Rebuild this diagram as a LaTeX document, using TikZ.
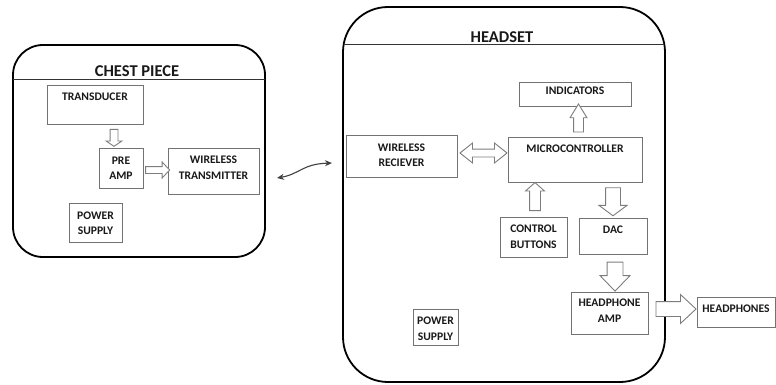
\documentclass[tikz,border=0pt]{standalone}
\usepackage{fontspec}
\setmainfont{Carlito}
\usetikzlibrary{shapes.arrows,arrows.meta}
\definecolor{txt}{RGB}{25,25,25}
\definecolor{boxline}{RGB}{115,115,115}
\definecolor{arrline}{RGB}{125,125,125}
\tikzset{
  outer/.style={draw=black, line width=1.8pt},
  hdrline/.style={draw=black!80, line width=0.8pt},
  blk/.style={draw=boxline, line width=0.9pt, inner sep=0pt},
  lbl/.style={text=txt, font=\fontsize{11.6}{15.5}\selectfont\bfseries, align=center, inner sep=0pt},
  ttl/.style={text=txt, font=\fontsize{16.5}{18}\selectfont\bfseries, inner sep=0pt},
  harr/.style={single arrow, draw=arrline, fill=white, line width=0.9pt, inner xsep=0pt},
  darr/.style={double arrow, draw=arrline, fill=white, line width=0.9pt, inner xsep=0pt},
}
\begin{document}
\begin{tikzpicture}[x=1pt,y=-1pt]
\useasboundingbox[fill=white] (0,0) rectangle (776,385);

% outer containers
\node[outer, rounded corners=30pt, minimum width=252pt, minimum height=212pt] (chest) at (139,151) {};
\node[outer, rounded corners=45pt, minimum width=322pt, minimum height=375pt] (head) at (504,194.5) {};
\draw[hdrline] (13,79) -- (265,79);
\draw[hdrline] (343.7,44) -- (664.3,44);
\node[ttl] (chestT) at (137,71) {CHEST PIECE};
\node[ttl] (headT) at (502,37) {HEADSET};

% chest piece boxes
\node[blk, minimum width=96pt, minimum height=39pt] (tr) at (95,104.5) {};
\node[lbl] (trT) at (95,97) {TRANSDUCER};
\node[blk, minimum width=44pt, minimum height=40pt] (pre) at (121,168) {};
\node[lbl] (preT) at (121,168) {PRE\\AMP};
\node[blk, minimum width=91pt, minimum height=46pt] (wtx) at (213.5,171) {};
\node[lbl] (wtxT) at (213.5,167.5) {WIRELESS\\TRANSMITTER};
\node[blk, minimum width=53pt, minimum height=39pt] (cpw) at (95.5,222.5) {};
\node[lbl] (cpwT) at (95.5,223) {POWER\\SUPPLY};

% headset boxes
\node[blk, minimum width=112pt, minimum height=24pt] (ind) at (575,94) {};
\node[lbl] (indT) at (575,91) {INDICATORS};
\node[blk, minimum width=134pt, minimum height=45pt] (mc) at (575,159.5) {};
\node[lbl] (mcT) at (575,149) {MICROCONTROLLER};
\node[blk, minimum width=111pt, minimum height=42pt] (wrx) at (401.5,156) {};
\node[lbl] (wrxT) at (401.5,155) {WIRELESS\\RECIEVER};
\node[blk, minimum width=67pt, minimum height=40pt] (cb) at (533.5,237) {};
\node[lbl] (cbT) at (533.5,236.5) {CONTROL\\BUTTONS};
\node[blk, minimum width=68pt, minimum height=36pt] (dac) at (613,236) {};
\node[lbl] (dacT) at (613,230) {DAC};
\node[blk, minimum width=77pt, minimum height=42pt] (hamp) at (609.5,313) {};
\node[lbl] (hampT) at (609.5,310.5) {HEADPHONE\\AMP};
\node[blk, minimum width=78pt, minimum height=30pt] (ph) at (736,312) {};
\node[lbl] (phT) at (736,309) {HEADPHONES};
\node[blk, minimum width=45pt, minimum height=36pt] (hpw) at (435.5,327) {};
\node[lbl] (hpwT) at (435.5,328.5) {POWER\\SUPPLY};

% block arrows
\node[harr, minimum height=17pt, inner ysep=3.5pt, single arrow head extend=4pt, single arrow tip angle=112, rotate=-90] (a1) at (114,136.5) {};
\node[harr, minimum height=24pt, inner ysep=3pt, single arrow head extend=4.5pt, single arrow tip angle=94, rotate=0] (a2) at (156,170) {};
\node[harr, minimum height=28pt, inner ysep=4.5pt, single arrow head extend=3.5pt, single arrow tip angle=63, rotate=90] (a3) at (578.5,122) {};
\node[darr, minimum height=47pt, inner ysep=3.5pt, double arrow head extend=6pt, double arrow tip angle=77] (a4) at (483.5,153) {};
\node[harr, minimum height=28pt, inner ysep=5pt, single arrow head extend=4pt, single arrow tip angle=97, rotate=90] (a5) at (535,199) {};
\node[harr, minimum height=28pt, inner ysep=7pt, single arrow head extend=6.5pt, single arrow tip angle=107, rotate=-90] (a6) at (613,199) {};
\node[harr, minimum height=29pt, inner ysep=7.5pt, single arrow head extend=7pt, single arrow tip angle=88, rotate=-90] (a7) at (615,272.5) {};
\node[harr, minimum height=40pt, inner ysep=7pt, single arrow head extend=7pt, single arrow tip angle=86] (a8) at (672,309) {};

% wireless link
\coordinate (la) at (277,178);
\coordinate (lb) at (332,163);
\draw[{Stealth[length=7pt,width=6pt]}-{Stealth[length=7pt,width=6pt]}, line width=1.1pt, draw=black!75]
  (la) .. controls (300,174) and (302,164) .. (lb);
\end{tikzpicture}
\end{document}
